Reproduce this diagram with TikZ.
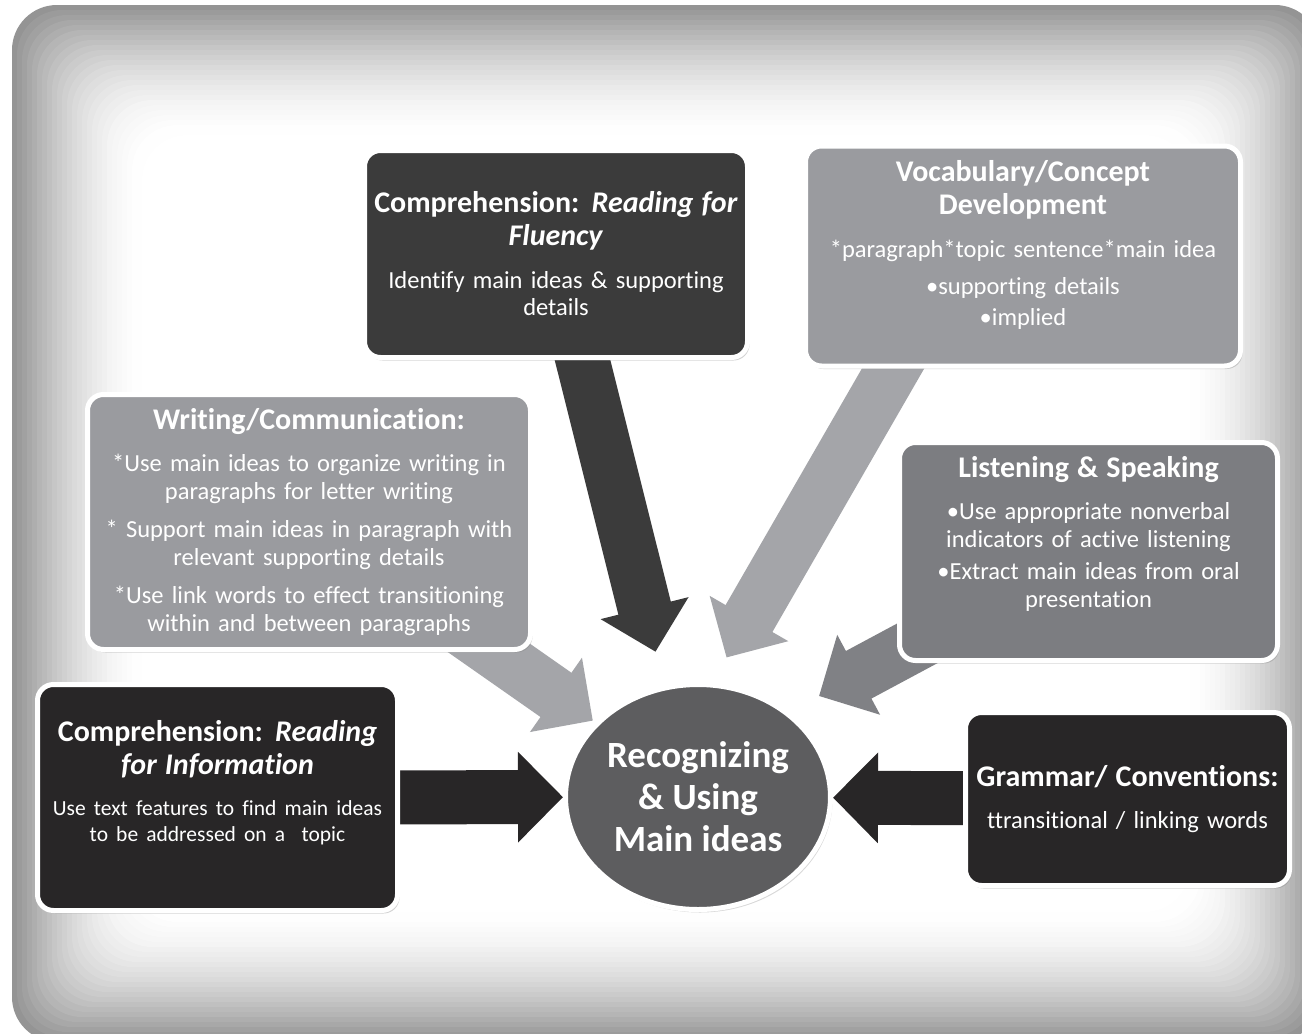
\documentclass[tikz,border=0pt]{standalone}
\usepackage{fontspec}
\setmainfont{Carlito}[Ligatures=NoCommon]
\usepackage{tikz}
\usetikzlibrary{math}
\usetikzlibrary{calc}
\usetikzlibrary{arrows.meta}
\usetikzlibrary{shapes.geometric}
\usetikzlibrary{shadows}

\definecolor{boxblack}{HTML}{282627}
\definecolor{boxdark}{HTML}{3B3B3B}
\definecolor{boxgrey}{HTML}{9A9B9F}
\definecolor{boxmid}{HTML}{7C7D81}
\definecolor{hubgrey}{HTML}{5D5D5F}
\definecolor{arrowlight}{HTML}{A4A5A9}
\definecolor{arrowmid}{HTML}{808185}

\newcommand{\ttl}{\fontsize{30}{33}\selectfont\bfseries}
\newcommand{\nextpara}[1][5pt]{\par\vspace{#1}}

\pgfdeclarelayer{glow}
\pgfdeclarelayer{arrows}
\pgfsetlayers{glow,arrows,main}

\begin{document}
\begin{tikzpicture}[x=1pt,y=-1pt,
  topic/.style={rectangle, rounded corners=16pt, draw=white, line width=5pt,
    text=white, align=center, inner xsep=3pt, inner ysep=6pt,
    font=\fontsize{24.5}{27.5}\selectfont,
    drop shadow={opacity=0.35, shadow xshift=2pt, shadow yshift=-3pt}},
  fat/.style={line width=\shaft pt,
    -{Triangle[width=\headw pt, length=\headl pt]}}]

  \tikzmath{
    \shaft = 54; % width of the arrow shafts
    \headw = 88; % width of the arrow heads
    \headl = 45; % length of the arrow heads
    \inset = 5;  % step of the background glow
  }

  \useasboundingbox (0,0) rectangle (1302,1034);

  % background panel, grey at the rim and white inside
  \begin{pgfonlayer}{glow}
    \fill[white] (0,0) rectangle (1302,1034);
    \foreach \k in {0,...,26} {
      \pgfmathsetmacro{\d}{\k*\inset}
      \pgfmathsetmacro{\g}{42*(1-\k/26)^1.7}
      \fill[black!\g, rounded corners=45pt] (12+\d, 5+\d) rectangle (1320-\d, 1042-\d);
    }
  \end{pgfonlayer}

  % centre of the diagram
  \node[ellipse, fill=hubgrey, draw=white, line width=5pt, inner sep=0pt,
    minimum width=265pt, minimum height=225pt, text=white, align=center,
    font=\fontsize{37}{42}\selectfont\bfseries,
    drop shadow={opacity=0.3, shadow xshift=2pt, shadow yshift=-3pt}]
    (hub) at (698,797) {Recognizing\\\& Using\\Main ideas};

  % boxes round the hub
  \node[topic, fill=boxdark, minimum width=383pt, minimum height=207pt,
    text width=377pt] (fluency) at (556,254)
    {{\ttl Comprehension: \textit{Reading for}\\\textit{Fluency}\par}
     \nextpara[15pt]
     Identify main ideas \& supporting\\details};

  \node[topic, fill=boxgrey, minimum width=435pt, minimum height=220pt,
    text width=429pt] (vocab) at (1023,256)
    {{\ttl Vocabulary/Concept\\Development\par}
     \nextpara[15pt]
     *paragraph*topic sentence*main idea
     \nextpara[10pt]
     •supporting details
     \nextpara[3pt]
     •implied
     \nextpara[22pt]};

  \node[topic, fill=boxgrey, minimum width=443pt, minimum height=255pt,
    text width=437pt] (writing) at (309,522)
    {{\ttl Writing/Communication:\par}
     \nextpara[15pt]
     *Use main ideas to organize writing in\\paragraphs for letter writing
     \nextpara[11pt]
     * Support main ideas in paragraph with\\relevant supporting details
     \nextpara[11pt]
     *Use link words to effect transitioning\\within and between paragraphs};

  \node[topic, fill=boxmid, minimum width=378pt, minimum height=218pt,
    text width=372pt] (listening) at (1088.5,551.5)
    {{\ttl Listening \& Speaking\par}
     \nextpara[15pt]
     •Use appropriate nonverbal\\indicators of active listening
     \nextpara[5pt]
     •Extract main ideas from oral\\presentation
     \nextpara[36pt]};

  \node[topic, fill=boxblack, minimum width=360pt, minimum height=226pt,
    text width=354pt] (info) at (217.5,797.5)
    {{\ttl Comprehension: \textit{Reading}\\\textit{for Information}\par}
     \nextpara[15pt]
     {\fontsize{21.5}{26}\selectfont
      Use text features to find main ideas\\to be addressed on a\ \ topic\par}
     \nextpara[30pt]};

  \node[topic, fill=boxblack, minimum width=324pt, minimum height=173pt,
    text width=318pt] (gram) at (1127.5,799)
    {{\ttl Grammar/ Conventions:\par}
     \nextpara[15pt]
     ttransitional / linking words};

  % arrows into the hub, kept under the boxes
  \begin{pgfonlayer}{arrows}
    \draw[fat, boxdark, shorten >=35pt] (fluency.center) -- (hub.107);
    \draw[fat, arrowlight, shorten >=29pt]
      ($(vocab.south west)+(116,-45)$) -- (hub.83);
    \draw[fat, arrowlight, shorten >=3pt] (writing.center) -- (hub.144);
    \draw[fat, arrowmid, shorten >=34pt] (listening.center) -- (hub.43);
    \draw[fat, boxblack] (info.center) -- (hub);
    \draw[fat, boxblack] (gram.center) -- (hub);
  \end{pgfonlayer}

\end{tikzpicture}
\end{document}
